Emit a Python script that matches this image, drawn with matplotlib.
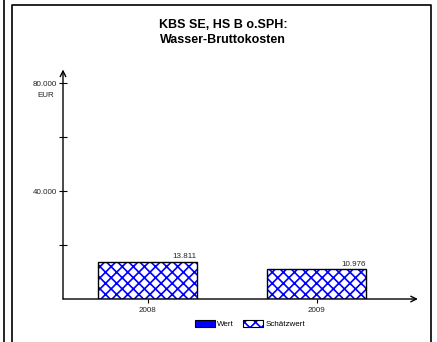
import matplotlib
matplotlib.use("Agg")
import matplotlib.pyplot as plt
from matplotlib.patches import Patch
from matplotlib.lines import Line2D

plt.rcParams['font.family'] = ['Liberation Sans', 'DejaVu Sans']
plt.rcParams['hatch.linewidth'] = 1.2

# data
years = ['2008', '2009']
estimates = [13811, 10976]
value_labels = ['13.811', '10.976']
y_ticks = [40000, 80000]
y_tick_labels = ['40.000', '80.000']
y_minor = [20000, 60000]
title = 'KBS SE, HS B o.SPH:\nWasser-Bruttokosten'
unit = 'EUR'
legend_labels = ['Wert', 'Schätzwert']

BLUE = '#0000ff'
W, H = 437, 342
fig = plt.figure(figsize=(W / 100, H / 100), dpi=100)

def fx(px):
    return px / W

def fy(py):
    return 1 - py / H

# panel frame lines
fig.add_artist(Line2D([fx(4), fx(4)], [0, 1], color='black', lw=1.2))
fig.add_artist(Line2D([fx(12), fx(12), fx(431), fx(431)], [0, fy(5), fy(5), 0],
                      color='black', lw=1.2))

ax = fig.add_axes([fx(63), fy(299), fx(401) - fx(63), fy(83) - fy(299)])
ax.set_xlim(0, 2)
ax.set_ylim(0, 80000)
for s in ax.spines.values():
    s.set_visible(False)
ax.patch.set_visible(False)

xs = [0.5, 1.5]
bw = 0.585
# blue cross-hatch fill, then black outline on top
ax.bar(xs, estimates, width=bw, color='white', edgecolor=BLUE, linewidth=0,
       hatch='xxx', zorder=2)
ax.bar(xs, estimates, width=bw, fill=False, edgecolor='black', linewidth=1.0,
       zorder=3)
for x, v, lab in zip(xs, estimates, value_labels):
    ax.text(x + bw / 2, v + 500, lab, ha='right', va='bottom', fontsize=5.8,
            color='#222222')

# axes with arrow heads
ax.annotate('', xy=(0, 85000), xytext=(0, 0), xycoords='data',
            arrowprops=dict(arrowstyle='->', color='black', lw=1.0,
                            shrinkA=0, shrinkB=0, mutation_scale=10),
            annotation_clip=False)
ax.annotate('', xy=(2.1, 0), xytext=(0, 0), xycoords='data',
            arrowprops=dict(arrowstyle='->', color='black', lw=1.0,
                            shrinkA=0, shrinkB=0, mutation_scale=10),
            annotation_clip=False)

ax.set_yticks(y_ticks)
ax.set_yticklabels(y_tick_labels)
ax.set_yticks(y_minor, minor=True)
ax.tick_params(axis='y', which='both', direction='inout', length=6, width=0.8,
               labelsize=5.8, pad=1.5, labelcolor='#222222')
ax.set_xticks(xs)
ax.set_xticklabels(years)
ax.tick_params(axis='x', direction='out', length=3, width=0.8, labelsize=5.8,
               pad=3, labelcolor='#222222')

ax.text(-0.1, 80000 - 3300, unit, ha='center', va='top', fontsize=5.8,
        color='#222222')

fig.text(fx(223), fy(19.5), title, ha='center', va='top', fontsize=9,
         fontweight='bold', linespacing=1.3)

h_wert = Patch(facecolor=BLUE, edgecolor='black', lw=0.8)
h_est = (Patch(facecolor='white', edgecolor=BLUE, lw=0, hatch='xxx'),
         Patch(fill=False, edgecolor='black', lw=0.8))
fig.legend([h_wert, h_est], legend_labels, loc='center',
           bbox_to_anchor=(fx(250), fy(324)),
           ncol=2, frameon=False, fontsize=5.8, handlelength=2.4, handleheight=0.9,
           handletextpad=0.3, columnspacing=1.2)

fig.savefig('out.png', dpi=100)
